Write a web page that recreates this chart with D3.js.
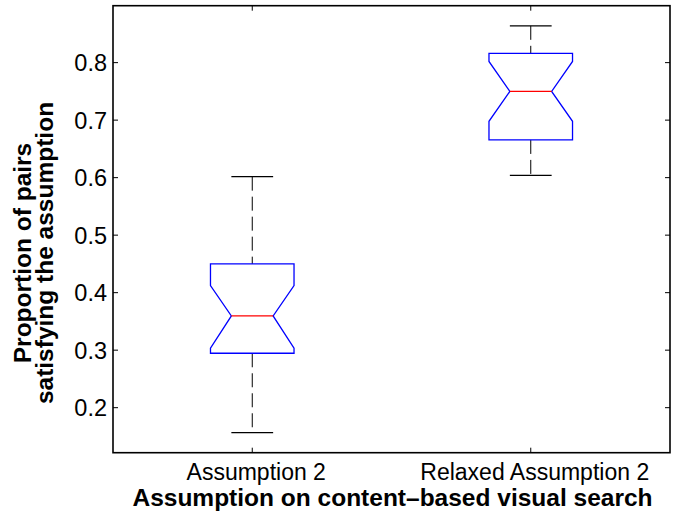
<!DOCTYPE html>
<html>
<head>
<meta charset="utf-8">
<script src="https://cdn.jsdelivr.net/npm/d3@7"></script>
<style>
  html, body { margin: 0; padding: 0; background: #fff; }
  svg { display: block; }
  text { font-family: "Liberation Sans", Arial, Helvetica, sans-serif; fill: #000; }
</style>
</head>
<body>
<svg id="chart" width="678" height="513"></svg>
<script>
// ---- data ----
const categories   = ["Assumption 2", "Relaxed Assumption 2"];
const lowerWhisker = [0.1565, 0.604];
const q1           = [0.2946, 0.6656];
const notchLo      = [0.3033, 0.698];
const medians      = [0.3595, 0.750];
const notchHi      = [0.4122, 0.802];
const q3           = [0.450, 0.816];
const upperWhisker = [0.6017, 0.864];
const yTicks       = [0.2, 0.3, 0.4, 0.5, 0.6, 0.7, 0.8];
const yDomain      = [0.1217, 0.899];
const xLabel = "Assumption on content\u2013based visual search";
const yLabelLines = ["Proportion of pairs", "satisfying the assumption"];

// ---- layout ----
const L = 113, R = 670, T = 5.7, B = 452.7;
const svg = d3.select("#chart");

const x = d3.scaleLinear().domain([0.5, categories.length + 0.5]).range([L, R]);
const y = d3.scaleLinear().domain(yDomain).range([B, T]);

const boxHalf = 0.15, notchHalf = 0.075, capHalf = 0.075;

const g = svg.append("g");

categories.forEach((c, i) => {
  const cx = i + 1;
  // whiskers
  g.append("line")
    .attr("x1", x(cx)).attr("x2", x(cx))
    .attr("y1", y(upperWhisker[i])).attr("y2", y(q3[i]))
    .attr("stroke", "#000").attr("stroke-width", 1).attr("stroke-dasharray", "14,6");
  g.append("line")
    .attr("x1", x(cx)).attr("x2", x(cx))
    .attr("y1", y(q1[i])).attr("y2", y(lowerWhisker[i]))
    .attr("stroke", "#000").attr("stroke-width", 1).attr("stroke-dasharray", "14,6");
  // caps
  [upperWhisker[i], lowerWhisker[i]].forEach(v => {
    g.append("line")
      .attr("x1", x(cx - capHalf)).attr("x2", x(cx + capHalf))
      .attr("y1", y(v)).attr("y2", y(v))
      .attr("stroke", "#000").attr("stroke-width", 1.2);
  });
  // notched box
  const pts = [
    [cx - boxHalf, q1[i]],
    [cx - boxHalf, notchLo[i]],
    [cx - notchHalf, medians[i]],
    [cx - boxHalf, notchHi[i]],
    [cx - boxHalf, q3[i]],
    [cx + boxHalf, q3[i]],
    [cx + boxHalf, notchHi[i]],
    [cx + notchHalf, medians[i]],
    [cx + boxHalf, notchLo[i]],
    [cx + boxHalf, q1[i]]
  ];
  g.append("path")
    .attr("d", d3.line().x(d => x(d[0])).y(d => y(d[1]))(pts) + "Z")
    .attr("fill", "none").attr("stroke", "#0000ff").attr("stroke-width", 1.3);
  // median
  g.append("line")
    .attr("x1", x(cx - notchHalf)).attr("x2", x(cx + notchHalf))
    .attr("y1", y(medians[i])).attr("y2", y(medians[i]))
    .attr("stroke", "#ff0000").attr("stroke-width", 1.3);
});

// ---- axes ----
const tickLen = 5;
const axisG = svg.append("g");
// frame
axisG.append("rect")
  .attr("x", L).attr("y", T).attr("width", R - L).attr("height", B - T)
  .attr("fill", "none").attr("stroke", "#000").attr("stroke-width", 1.6);

// y ticks (left and right, inward)
yTicks.forEach(v => {
  axisG.append("line").attr("x1", L).attr("x2", L + tickLen)
    .attr("y1", y(v)).attr("y2", y(v)).attr("stroke", "#000").attr("stroke-width", 1);
  axisG.append("line").attr("x1", R).attr("x2", R - tickLen)
    .attr("y1", y(v)).attr("y2", y(v)).attr("stroke", "#000").attr("stroke-width", 1);
  axisG.append("text")
    .attr("x", L - 6).attr("y", y(v)).attr("dy", "0.36em")
    .attr("text-anchor", "end").attr("font-size", 23.5)
    .text(d3.format(".1f")(v));
});

// x ticks (bottom and top, inward)
categories.forEach((c, i) => {
  const px = x(i + 1);
  axisG.append("line").attr("x1", px).attr("x2", px)
    .attr("y1", B).attr("y2", B - tickLen).attr("stroke", "#000").attr("stroke-width", 1);
  axisG.append("line").attr("x1", px).attr("x2", px)
    .attr("y1", T).attr("y2", T + tickLen).attr("stroke", "#000").attr("stroke-width", 1);
  axisG.append("text")
    .attr("x", px + 4).attr("y", 480)
    .attr("text-anchor", "middle").attr("font-size", 23)
    .text(c);
});

// x label
svg.append("text")
  .attr("x", 392.5).attr("y", 506)
  .attr("text-anchor", "middle").attr("font-size", 24.5).attr("font-weight", "bold")
  .text(xLabel);

// y label
const yl = svg.append("text")
  .attr("transform", "translate(0,253) rotate(-90)")
  .attr("text-anchor", "middle").attr("font-size", 24.5).attr("font-weight", "bold");
yLabelLines.forEach((t, k) => {
  yl.append("tspan").attr("x", 0).attr("y", 31 + k * 22).text(t);
});
</script>
</body>
</html>
